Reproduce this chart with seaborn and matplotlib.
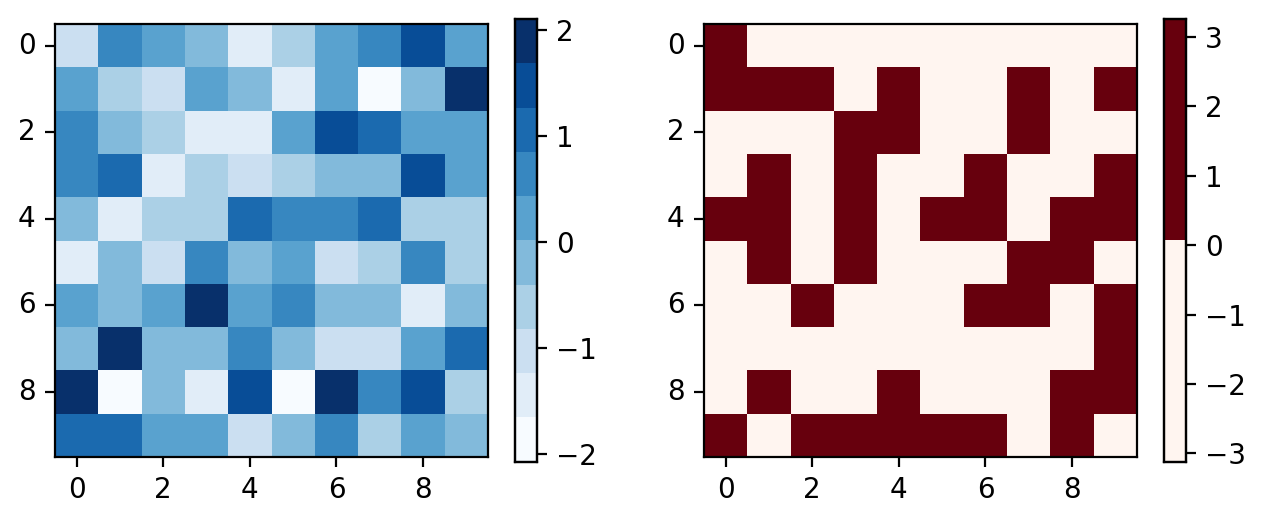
import numpy as np
import matplotlib
matplotlib.use("Agg")
import matplotlib.pyplot as plt
import seaborn as sns

# left grid (Blues, 10 discrete levels)
blue_vals = [
    [-1.05, 0.65, 0.18, -0.25, -1.48, -0.62, 0.22, 0.58, 1.50, 0.15],
    [0.25, -0.70, -1.10, 0.12, -0.30, -1.55, 0.28, -2.07, -0.18, 2.10],
    [0.70, -0.20, -0.58, -1.45, -1.60, 0.10, 1.45, 1.02, 0.30, 0.21],
    [0.55, 1.10, -1.40, -0.68, -0.95, -0.75, -0.28, -0.15, 1.55, 0.18],
    [-0.35, -1.52, -0.60, -0.72, 0.98, 0.66, 0.75, 1.12, -0.55, -0.64],
    [-1.50, -0.12, -1.15, 0.60, -0.26, 0.34, -1.00, -0.50, 0.70, -0.65],
    [0.08, -0.30, 0.24, 1.98, 0.15, 0.52, -0.22, -0.10, -1.38, -0.33],
    [-0.20, 1.85, -0.14, -0.25, 0.78, -0.06, -1.05, -0.92, 0.36, 1.05],
    [1.78, -1.90, -0.24, -1.45, 1.38, -2.02, 2.05, 0.62, 1.50, -0.60],
    [1.05, 1.10, 0.20, 0.27, -1.02, -0.20, 0.65, -0.60, 0.17, -0.08],
]
blue_min, blue_max = -2.07, 2.10

# right grid (Reds, 2 discrete levels)
red_vals = [
    [1.3, -0.9, -1.6, -0.4, -2.1, -0.7, -1.2, -0.3, -1.8, -0.6],
    [0.8, 2.1, 0.5, -1.1, 1.4, -0.5, -2.4, 0.9, -0.8, 1.7],
    [-0.6, -1.3, -0.2, 0.7, 1.1, -1.7, -0.9, 2.3, -0.4, -1.5],
    [-2.0, 0.4, -0.7, 1.9, -0.3, -1.0, 0.6, -1.4, -3.12, 1.2],
    [1.6, 0.3, -0.8, 1.0, -1.9, 0.7, 2.6, -0.5, 1.5, 0.4],
    [-1.1, 1.8, -0.6, 0.5, -0.9, -2.2, -0.4, 1.3, 0.8, -1.0],
    [-0.3, -1.4, 1.1, -0.7, -1.2, -0.2, 0.9, 3.26, -0.9, 0.6],
    [-1.6, -0.5, -2.5, -0.8, -0.4, -1.3, -0.6, -1.0, -0.2, 1.4],
    [-0.7, 0.6, -1.1, -0.3, 2.0, -0.8, -1.7, -0.5, 0.4, 1.1],
    [0.9, -1.2, 1.5, 0.3, 0.7, 2.2, 1.0, -0.6, 1.8, -1.4],
]
red_min, red_max = -3.12, 3.26

tick_pos = [0.5, 2.5, 4.5, 6.5, 8.5]
tick_labels = ["0", "2", "4", "6", "8"]

fig = plt.figure(figsize=(6.315, 2.605), dpi=200)
ax1 = fig.add_axes([0.04355, 0.12284, 0.34283, 0.83109])
cax1 = fig.add_axes([0.40776, 0.11382, 0.01742, 0.84971])
ax2 = fig.add_axes([0.55740, 0.12284, 0.34283, 0.83109])
cax2 = fig.add_axes([0.92122, 0.11382, 0.01742, 0.84971])

sns.heatmap(np.array(blue_vals), ax=ax1, cbar_ax=cax1,
            cmap=plt.get_cmap("Blues", 10), vmin=blue_min, vmax=blue_max)
sns.heatmap(np.array(red_vals), ax=ax2, cbar_ax=cax2,
            cmap=plt.get_cmap("Reds", 2), vmin=red_min, vmax=red_max)

for ax in (ax1, ax2):
    ax.set_xticks(tick_pos)
    ax.set_xticklabels(tick_labels, rotation=0)
    ax.set_yticks(tick_pos)
    ax.set_yticklabels(tick_labels, rotation=0)
    ax.tick_params(length=3.5, width=0.8, labelsize=10)
    for s in ax.spines.values():
        s.set_visible(True)
        s.set_linewidth(0.8)
        s.set_color("black")

for cax in (cax1, cax2):
    cax.tick_params(length=3.5, width=0.8, labelsize=10)
    for s in cax.spines.values():
        s.set_visible(True)
    cb = cax.collections[0].colorbar if cax.collections and hasattr(cax.collections[0], "colorbar") else None
for mesh in (ax1.collections[0], ax2.collections[0]):
    cb = mesh.colorbar
    cb.outline.set_linewidth(0.8)
    cb.outline.set_edgecolor("black")

fig.savefig("out.png", dpi=200)
